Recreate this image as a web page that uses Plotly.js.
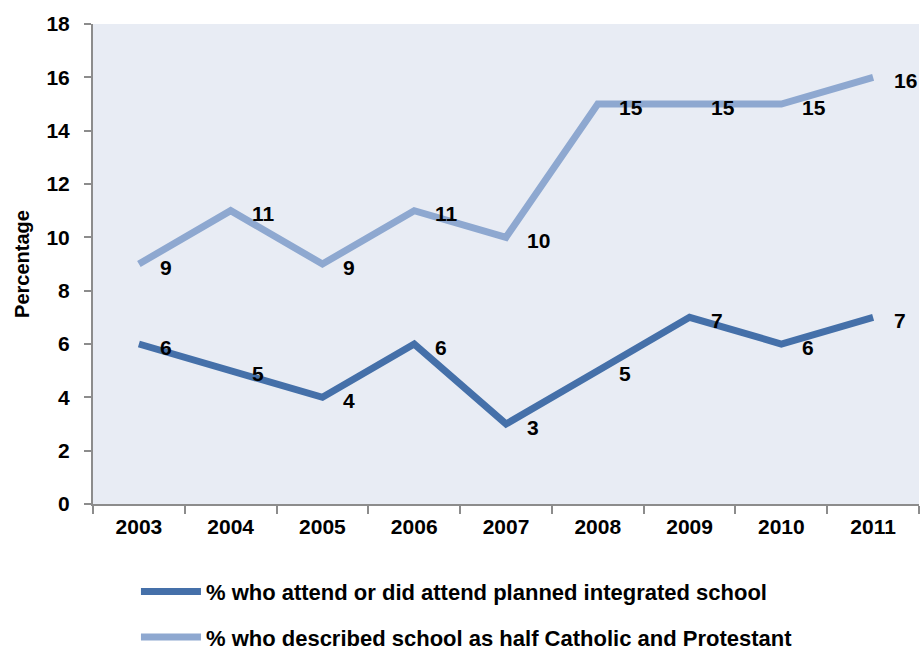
<!DOCTYPE html>
<html><head><meta charset="utf-8">
<script src="https://cdn.plot.ly/plotly-3.0.1.min.js"></script>
<style>html,body{margin:0;padding:0;background:#fff}</style>
</head><body>
<div id="chart" style="width:921px;height:651px"></div>
<script>
const years = ['2003','2004','2005','2006','2007','2008','2009','2010','2011'];
const integrated = [6,5,4,6,3,5,7,6,7];
const mixed = [9,11,9,11,10,15,15,15,16];
const seriesNames = ['% who attend or did attend planned integrated school','% who described school as half Catholic and Protestant'];
const yTicks = [0,2,4,6,8,10,12,14,16,18];

const FONT = '"Liberation Sans",Arial,sans-serif';
const darkC = '#4570A9', lightC = '#8EA8D0';

const traces = [
  {x: years, y: integrated, name: seriesNames[0], legendgroup: 'a', mode: 'lines', line: {color: darkC, width: 7}},
  {x: years, y: mixed, name: seriesNames[1], legendgroup: 'b', mode: 'lines', line: {color: lightC, width: 7}}
];
const annotations = [];
[integrated, mixed].forEach(arr => arr.forEach((v, i) => annotations.push({
  x: i, y: v, xref: 'x', yref: 'y', text: String(v), showarrow: false,
  xanchor: 'left', yanchor: 'middle', xshift: 19, yshift: -3,
  font: {family: FONT, size: 21, color: '#000', weight: 'bold'}
})));

const layout = {
  width: 921, height: 651,
  margin: {l: 93, r: 2, t: 24, b: 147, autoexpand: false},
  paper_bgcolor: '#fff', plot_bgcolor: '#E8ECF4',
  font: {family: FONT, size: 21, color: '#000', weight: 'bold'},
  showlegend: true,
  legend: {x: 0.052, y: -0.139, xanchor: 'left', yanchor: 'top', orientation: 'v', traceorder: 'grouped',
    font: {family: FONT, size: 22, color: '#000', weight: 'bold'}, tracegroupgap: 14, itemwidth: 60},
  xaxis: {type: 'category', range: [-0.5, 8.5], tickson: 'boundaries', ticks: 'outside', ticklen: 8,
    tickcolor: '#8c8c8c', tickwidth: 2, showline: true, linecolor: '#8c8c8c', linewidth: 2,
    showgrid: false, zeroline: false, ticklabelstandoff: 3,
    tickfont: {family: FONT, size: 21, weight: 'bold'}},
  yaxis: {range: [0, 18], tickvals: yTicks, ticktext: yTicks.map(String), ticks: 'outside', ticklen: 7,
    tickcolor: '#8c8c8c', tickwidth: 2, showline: true, linecolor: '#8c8c8c', linewidth: 2,
    showgrid: false, zeroline: false, ticklabelstandoff: 10,
    tickfont: {family: FONT, size: 21, weight: 'bold'},
    title: {text: 'Percentage', standoff: 11, font: {family: FONT, size: 20, weight: 'bold'}}},
  annotations: annotations
};
Plotly.newPlot('chart', traces, layout, {displayModeBar: false, staticPlot: true});
</script>
</body></html>
